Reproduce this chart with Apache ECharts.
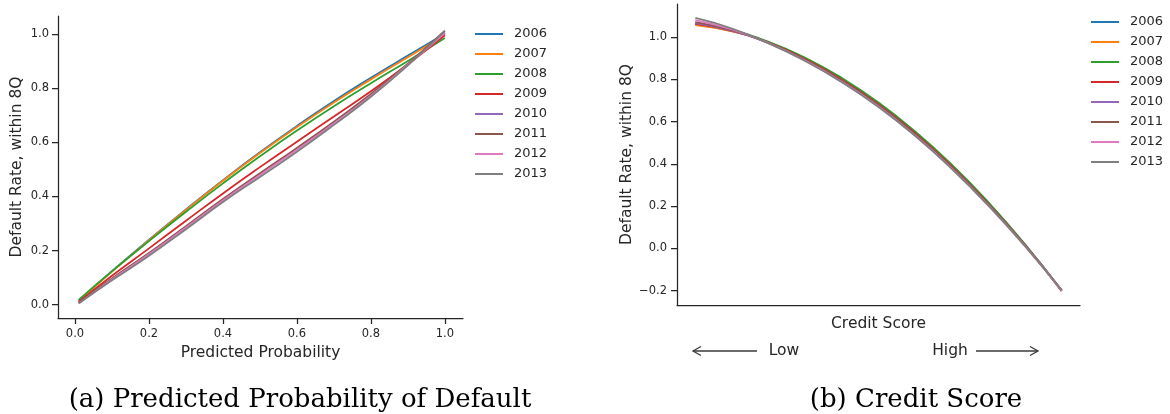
<!DOCTYPE html>
<html>
<head>
<meta charset="utf-8">
<script src="https://cdn.jsdelivr.net/npm/echarts@6/dist/echarts.min.js"></script>
<style>
  html, body { margin: 0; padding: 0; background: #ffffff; }
  #chart { width: 1170px; height: 414px; }
</style>
</head>
<body>
<div id="chart"></div>
<script>
// Cohort years, one line per year in each panel
const years = ['2006', '2007', '2008', '2009', '2010', '2011', '2012', '2013'];
const colors = ['#1f77b4', '#ff7f0e', '#2ca02c', '#d62728', '#9467bd', '#8c564b', '#e377c2', '#7f7f7f'];

// Panel (a): default rate against predicted probability
const probX = [0.01, 0.1, 0.2, 0.3, 0.4, 0.5, 0.6, 0.7, 0.8, 0.9, 1.0];
const prob2006 = [0.015, 0.124, 0.240, 0.352, 0.460, 0.563, 0.660, 0.752, 0.838, 0.920, 1.000];
const prob2007 = [0.013, 0.122, 0.238, 0.350, 0.458, 0.560, 0.656, 0.747, 0.832, 0.914, 0.996];
const prob2008 = [0.018, 0.124, 0.235, 0.343, 0.448, 0.548, 0.643, 0.733, 0.818, 0.900, 0.985];
const prob2009 = [0.010, 0.107, 0.208, 0.310, 0.411, 0.508, 0.602, 0.695, 0.788, 0.888, 0.995];
const prob2010 = [0.006, 0.095, 0.189, 0.288, 0.388, 0.482, 0.576, 0.673, 0.775, 0.887, 1.005];
const prob2011 = [0.008, 0.097, 0.191, 0.290, 0.390, 0.485, 0.579, 0.676, 0.778, 0.890, 1.012];
const prob2012 = [0.004, 0.093, 0.186, 0.285, 0.385, 0.479, 0.572, 0.669, 0.772, 0.886, 1.003];
const prob2013 = [0.005, 0.090, 0.181, 0.279, 0.379, 0.472, 0.565, 0.664, 0.768, 0.884, 1.010];
const probTicksX = [0, 0.2, 0.4, 0.6, 0.8, 1.0];
const probTicksY = [0, 0.2, 0.4, 0.6, 0.8, 1.0];

// Panel (b): default rate against credit score (low to high, unitless position)
const scoreX = [0, 0.1, 0.2, 0.3, 0.4, 0.5, 0.6, 0.7, 0.8, 0.9, 1.0];
const score2006 = [1.060, 1.028, 0.975, 0.898, 0.801, 0.685, 0.548, 0.391, 0.214, 0.017, -0.198];
const score2007 = [1.056, 1.026, 0.973, 0.896, 0.799, 0.683, 0.546, 0.389, 0.212, 0.016, -0.199];
const score2008 = [1.065, 1.031, 0.977, 0.902, 0.806, 0.690, 0.553, 0.396, 0.218, 0.019, -0.200];
const score2009 = [1.062, 1.029, 0.973, 0.895, 0.798, 0.682, 0.545, 0.388, 0.211, 0.015, -0.201];
const score2010 = [1.066, 1.030, 0.971, 0.891, 0.793, 0.677, 0.540, 0.383, 0.207, 0.013, -0.199];
const score2011 = [1.070, 1.032, 0.972, 0.892, 0.794, 0.678, 0.541, 0.384, 0.208, 0.014, -0.202];
const score2012 = [1.080, 1.036, 0.971, 0.888, 0.788, 0.671, 0.534, 0.378, 0.203, 0.011, -0.200];
const score2013 = [1.090, 1.040, 0.970, 0.886, 0.786, 0.669, 0.532, 0.376, 0.202, 0.010, -0.198];
const scoreTicksY = [-0.2, 0, 0.2, 0.4, 0.6, 0.8, 1.0];

const probRates = [prob2006, prob2007, prob2008, prob2009, prob2010, prob2011, prob2012, prob2013];
const scoreRates = [score2006, score2007, score2008, score2009, score2010, score2011, score2012, score2013];

const INK = '#262626';
const SANS = 'DejaVu Sans';

function tickFmt(v) {
  const s = Math.abs(v).toFixed(1);
  return v < -1e-9 ? '\u2212' + s : s;
}

function axisBase(gridIndex) {
  return {
    gridIndex: gridIndex,
    type: 'value',
    axisLine: { show: true, onZero: false, lineStyle: { color: INK, width: 1.25 } },
    axisTick: { show: true, length: 6, lineStyle: { color: INK, width: 1.25 } },
    axisLabel: { color: INK, fontSize: 11.5, fontFamily: SANS, formatter: tickFmt },
    splitLine: { show: false },
    nameLocation: 'middle',
    nameTextStyle: { color: INK, fontSize: 15.5, fontFamily: SANS }
  };
}

function ticked(values, margin) {
  return {
    axisTick: { show: true, length: 6, lineStyle: { color: INK, width: 1.25 }, customValues: values },
    axisLabel: { color: INK, fontSize: 11.5, fontFamily: SANS, formatter: tickFmt, margin: margin, customValues: values }
  };
}

function pairs(xs, ys) {
  return xs.map((x, i) => [x, ys[i]]);
}

const xAxes = [
  Object.assign(axisBase(0), { min: -0.046, max: 1.049, name: 'Predicted Probability', nameGap: 25 }, ticked(probTicksX, 10)),
  Object.assign(axisBase(1), {
    min: -0.05, max: 1.05,
    name: 'Credit Score', nameGap: 11,
    axisTick: { show: false },
    axisLabel: { show: false }
  })
];

const yAxes = [
  Object.assign(axisBase(0), { min: -0.049, max: 1.066, name: 'Default Rate, within 8Q', nameGap: 33 }, ticked(probTicksY, 9)),
  Object.assign(axisBase(1), { min: -0.268, max: 1.156, name: 'Default Rate, within 8Q', nameGap: 42 }, ticked(scoreTicksY, 10))
];

const series = [];
years.forEach((y, i) => {
  series.push({
    name: y, type: 'line', xAxisIndex: 0, yAxisIndex: 0,
    data: pairs(probX, probRates[i]), smooth: true, symbol: 'none',
    lineStyle: { color: colors[i], width: 1.8 }, itemStyle: { color: colors[i] }
  });
});
years.forEach((y, i) => {
  series.push({
    name: y, type: 'line', xAxisIndex: 1, yAxisIndex: 1,
    data: pairs(scoreX, scoreRates[i]), smooth: true, symbol: 'none',
    lineStyle: { color: colors[i], width: 1.8 }, itemStyle: { color: colors[i] }
  });
});

function legendAt(left, top) {
  return {
    data: years, orient: 'vertical', left: left, top: top, padding: 0,
    itemWidth: 28, itemHeight: 14, itemGap: 6,
    icon: 'path://M0,6 L28,6 L28,8 L0,8 Z',
    textStyle: { color: INK, fontSize: 13, fontFamily: SANS, padding: [0, 0, 0, 6], lineHeight: 14 },
    selectedMode: false
  };
}

function arrow(x1, x2, y) {
  // shaft from x1 to x2 with an open chevron head at x2
  const dir = x2 > x1 ? -1 : 1;
  const style = { stroke: '#3a3a3a', lineWidth: 1.3, fill: null };
  return [
    { type: 'line', shape: { x1: x1, y1: y, x2: x2, y2: y }, style: style },
    { type: 'polyline', shape: { points: [[x2 + dir * 8, y - 4.5], [x2, y], [x2 + dir * 8, y + 4.5]] }, style: style }
  ];
}

const graphics = [
  ...arrow(757, 693, 351),
  ...arrow(976, 1038, 351),
  { type: 'text', x: 784, y: 351, style: { text: 'Low', fill: INK, font: '15.5px "DejaVu Sans"', align: 'center', verticalAlign: 'middle' } },
  { type: 'text', x: 950, y: 351, style: { text: 'High', fill: INK, font: '15.5px "DejaVu Sans"', align: 'center', verticalAlign: 'middle' } },
  { type: 'text', x: 300, y: 400, style: { text: '(a) Predicted Probability of Default', fill: '#000000', font: '26px "DejaVu Serif"', align: 'center', verticalAlign: 'middle' } },
  { type: 'text', x: 916, y: 400, style: { text: '(b) Credit Score', fill: '#000000', font: '26px "DejaVu Serif"', align: 'center', verticalAlign: 'middle' } }
];

const chart = echarts.init(document.getElementById('chart'), null, { renderer: 'canvas' });
chart.setOption({
  animation: false,
  backgroundColor: '#ffffff',
  grid: [
    { left: 58, top: 16, width: 405, height: 302, containLabel: false },
    { left: 677, top: 4, width: 403, height: 301, containLabel: false }
  ],
  xAxis: xAxes,
  yAxis: yAxes,
  legend: [legendAt(475, 27), legendAt(1091, 15)],
  series: series,
  graphic: graphics
});
</script>
</body>
</html>
